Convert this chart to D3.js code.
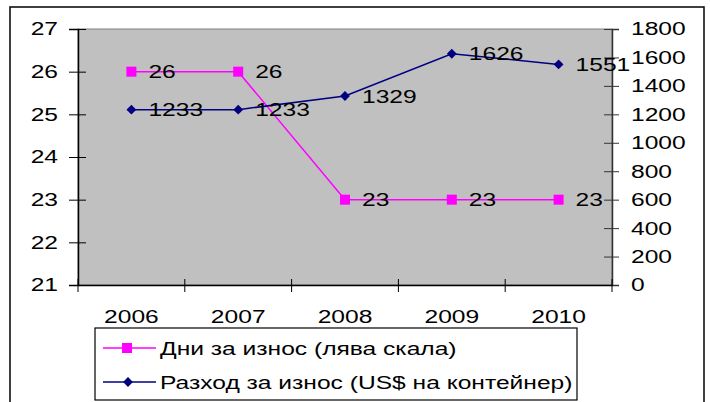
<!DOCTYPE html>
<html>
<head>
<meta charset="utf-8">
<script src="https://cdn.jsdelivr.net/npm/d3@7"></script>
<style>
  body{margin:0;background:#fff}
  svg{display:block;font-family:"Liberation Sans",Arial,sans-serif}
</style>
</head>
<body>
<script>
var years=["2006","2007","2008","2009","2010"]
var days=[26,26,23,23,23]
var cost=[1233,1233,1329,1626,1551]
var leftTicks=[21,22,23,24,25,26,27]
var rightTicks=[0,200,400,600,800,1000,1200,1400,1600,1800]
var legendNames=["Дни за износ (лява скала)","Разход за износ (US$ на контейнер)"]

var screen={width:710,height:402}
var plot={left:78,top:29,right:612,bottom:285}
var fs=18.5
var sx=1.33   // text in the original is stretched horizontally

// widen text horizontally, keeping its anchor point in place
var stretch=function(sel){
  sel.each(function(){
    var t=d3.select(this)
    var x=+t.attr("x")||0
    t.attr("x",x/sx).attr("transform","scale("+sx+",1)")
     .attr("font-size",fs).attr("fill","#000")
     .attr("font-family","Liberation Sans, Arial, sans-serif")
  })
}

var svg=d3.select("body").append("svg")
  .attr("width",screen.width)
  .attr("height",screen.height)

// outer frame
svg.append("rect")
  .attr("x",10).attr("y",7)
  .attr("width",694).attr("height",420)
  .attr("fill","#fff").attr("stroke","#000").attr("stroke-width",1.5)

var x=d3.scaleBand().domain(years).range([plot.left,plot.right]).padding(0)
var yL=d3.scaleLinear().domain([21,27]).range([plot.bottom,plot.top])
var yR=d3.scaleLinear().domain([0,1800]).range([plot.bottom,plot.top])
var cx=function(i){return x(years[i])+x.bandwidth()/2}

// plot area
svg.append("rect")
  .attr("x",plot.left).attr("y",plot.top)
  .attr("width",plot.right-plot.left).attr("height",plot.bottom-plot.top)
  .attr("fill","#c0c0c0").attr("stroke","#808080").attr("stroke-width",1)

// left axis
var gL=svg.append("g")
  .attr("transform","translate("+plot.left+",0)")
  .call(d3.axisLeft(yL).tickValues(leftTicks).tickSize(9).tickPadding(11).tickFormat(d3.format("d")))
gL.selectAll("line").attr("x1",8).attr("x2",-9).attr("stroke","#000")
gL.select(".domain").attr("stroke","#000").attr("stroke-width",1.5)
stretch(gL.selectAll("text"))

// right axis
var gR=svg.append("g")
  .attr("transform","translate("+plot.right+",0)")
  .call(d3.axisRight(yR).tickValues(rightTicks).tickSize(7).tickPadding(12).tickFormat(d3.format("d")))
gR.selectAll("line").attr("x1",-8).attr("x2",7).attr("stroke","#333")
gR.select(".domain").attr("stroke","#333").attr("stroke-width",1.5)
stretch(gR.selectAll("text"))

// bottom axis
var gX=svg.append("g")
  .attr("transform","translate(0,"+plot.bottom+")")
  .call(d3.axisBottom(x).tickSize(0).tickPadding(25))
gX.select(".domain").attr("stroke","#000").attr("stroke-width",1.5)
stretch(gX.selectAll("text"))
var edges=years.map(function(d){return x(d)}).concat([plot.right])
gX.selectAll(".edge").data(edges).enter().append("line")
  .attr("x1",function(d){return d}).attr("x2",function(d){return d})
  .attr("y1",-6).attr("y2",7).attr("stroke","#000")

// days line (left scale)
var lineDays=d3.line().x(function(d,i){return cx(i)}).y(function(d){return yL(d)})
svg.append("path").datum(days)
  .attr("d",lineDays).attr("fill","none").attr("stroke","#ff00ff").attr("stroke-width",1.5)
svg.selectAll(".sq").data(days).enter().append("rect")
  .attr("x",function(d,i){return cx(i)-5}).attr("y",function(d){return yL(d)-5})
  .attr("width",10).attr("height",10).attr("fill","#ff00ff")

// cost line (right scale)
var lineCost=d3.line().x(function(d,i){return cx(i)}).y(function(d){return yR(d)})
svg.append("path").datum(cost)
  .attr("d",lineCost).attr("fill","none").attr("stroke","#000080").attr("stroke-width",1.5)
var diamond=d3.symbol().type(d3.symbolDiamond2).size(62)
svg.selectAll(".dm").data(cost).enter().append("path")
  .attr("d",diamond)
  .attr("transform",function(d,i){return "translate("+cx(i)+","+yR(d)+")"})
  .attr("fill","#000080")

// data labels
svg.selectAll(".ld").data(days).enter().append("text")
  .attr("x",function(d,i){return cx(i)+17}).attr("y",function(d){return yL(d)})
  .attr("dy","0.36em")
  .text(function(d){return d})
  .call(stretch)
svg.selectAll(".lc").data(cost).enter().append("text")
  .attr("x",function(d,i){return cx(i)+17}).attr("y",function(d){return yR(d)})
  .attr("dy","0.36em")
  .text(function(d){return d})
  .call(stretch)

// legend
var legend=svg.append("g").attr("transform","translate(95,328)")
legend.append("rect").attr("width",482).attr("height",72)
  .attr("fill","#fff").attr("stroke","#000").attr("stroke-width",1.2)
var rows=legend.selectAll(".row").data(legendNames).enter().append("g")
  .attr("transform",function(d,i){return "translate(0,"+(20+i*34)+")"})
rows.append("line").attr("x1",8).attr("x2",61).attr("y1",0).attr("y2",0)
  .attr("stroke",function(d,i){return i==0?"#ff00ff":"#000080"}).attr("stroke-width",1.5)
rows.filter(function(d,i){return i==0}).append("rect")
  .attr("x",27).attr("y",-5).attr("width",10).attr("height",10).attr("fill","#ff00ff")
rows.filter(function(d,i){return i==1}).append("path")
  .attr("d",diamond).attr("transform","translate(33,0)").attr("fill","#000080")
rows.append("text").attr("x",65).attr("dy","0.36em")
  .text(function(d){return d})
  .call(stretch)
</script>
</body>
</html>
